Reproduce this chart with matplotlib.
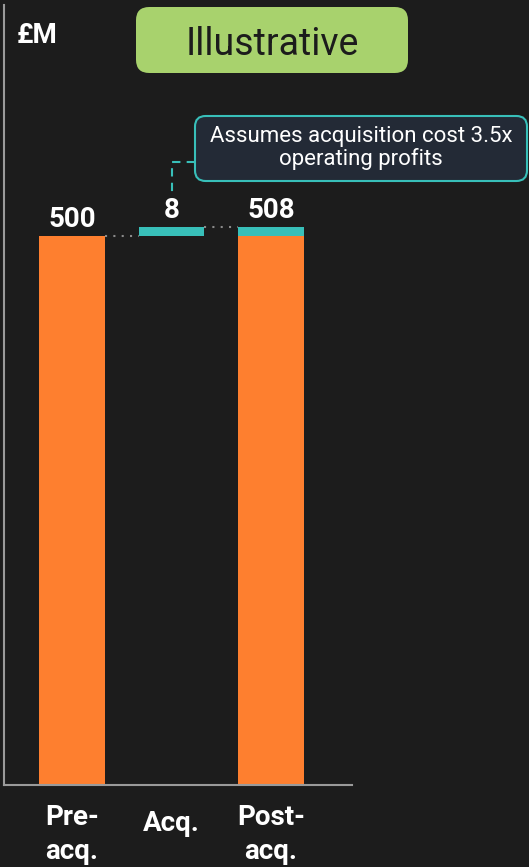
import matplotlib
matplotlib.use("Agg")
import matplotlib.pyplot as plt
from matplotlib.patches import FancyBboxPatch
from matplotlib.transforms import ScaledTranslation

plt.rcParams['font.family'] = ['Roboto', 'DejaVu Sans']

categories = ["Pre-\nacq.", "Acq.", "Post-\nacq."]
pre_value = 500
acq_value = 8
post_value = pre_value + acq_value
value_labels = ["500", "8", "508"]

bg = "#1c1c1c"
orange = "#fe7f2f"
teal = "#38bfb9"
axis_grey = "#9a9a9a"

W, H = 529, 867
fig = plt.figure(figsize=(W / 100, H / 100), dpi=100, facecolor=bg)

# axes placed in pixel terms: left spine x=4, baseline y=785
ax = fig.add_axes([4 / W, (H - 785) / H, 348 / W, (785 - 5) / H])
ax.set_facecolor(bg)

x = [0, 1, 2]
width = 0.66

ax.bar(x[0], pre_value, width, color=orange)
ax.bar(x[1], acq_value, width, bottom=pre_value, color=teal)
ax.bar(x[2], pre_value, width, color=orange)
ax.bar(x[2], acq_value, width, bottom=pre_value, color=teal)

# dotted connectors between the bars
ax.plot([x[0] + width / 2, x[1] - width / 2], [pre_value, pre_value],
        color="#8a8a8a", linestyle=(0, (1, 3)), linewidth=1.5)
ax.plot([x[1] + width / 2, x[2] - width / 2], [post_value, post_value],
        color="#8a8a8a", linestyle=(0, (1, 3)), linewidth=1.5)

tops = [pre_value, post_value, post_value]
for xi, top, lab in zip(x, tops, value_labels):
    ax.annotate(lab, (xi, top), xytext=(0, 6.5), textcoords="offset points",
                ha="center", va="baseline", color="white", fontsize=20,
                fontweight="bold")

ax.set_xlim(-0.683, 2.814)
ax.set_ylim(0, 710)
ax.set_xticks(x)
ax.set_xticklabels(categories, color="white", fontsize=20, fontweight="bold",
                   linespacing=1.3)
ax.tick_params(axis="x", length=0, pad=14)
# the single-line label sits a little lower than the two-line ones
mid = ax.get_xticklabels()[1]
mid.set_transform(mid.get_transform() + ScaledTranslation(0, -0.06, fig.dpi_scale_trans))
ax.set_yticks([])
for side in ["top", "right"]:
    ax.spines[side].set_visible(False)
for side in ["left", "bottom"]:
    ax.spines[side].set_color(axis_grey)
    ax.spines[side].set_linewidth(1.5)

# unit label
fig.text(17 / W, 1 - 43 / H, "£M", color="white", fontsize=20,
         fontweight="bold", ha="left", va="baseline")

# "Illustrative" badge
badge = FancyBboxPatch((136 / W, 1 - 73 / H), 272 / W, 66 / H,
                       boxstyle="round,pad=0,rounding_size=0.025",
                       transform=fig.transFigure, facecolor="#a8d26d",
                       edgecolor="none", mutation_aspect=W / H)
fig.patches.append(badge)
fig.text(272 / W, 1 - 55 / H, "Illustrative", color="#1c1c1c", fontsize=27,
         ha="center", va="baseline")

# note callout
note = FancyBboxPatch((195 / W, 1 - 181 / H), 332 / W, 65 / H,
                      boxstyle="round,pad=0,rounding_size=0.02",
                      transform=fig.transFigure, facecolor="#232a36",
                      edgecolor=teal, linewidth=1.5, mutation_aspect=W / H)
fig.patches.append(note)
fig.text(361 / W, 1 - 148 / H, "Assumes acquisition cost 3.5x\noperating profits",
         color="white", fontsize=16, ha="center", va="center", linespacing=1.05)

# dashed leader from the note down to the acquisition label
fig.add_artist(plt.Line2D([195 / W, 172 / W, 172 / W],
                          [1 - 162 / H, 1 - 162 / H, 1 - 192 / H],
                          transform=fig.transFigure, color=teal,
                          linestyle=(0, (4, 3)), linewidth=1.5))

fig.savefig("out.png", dpi=100, facecolor=bg)
